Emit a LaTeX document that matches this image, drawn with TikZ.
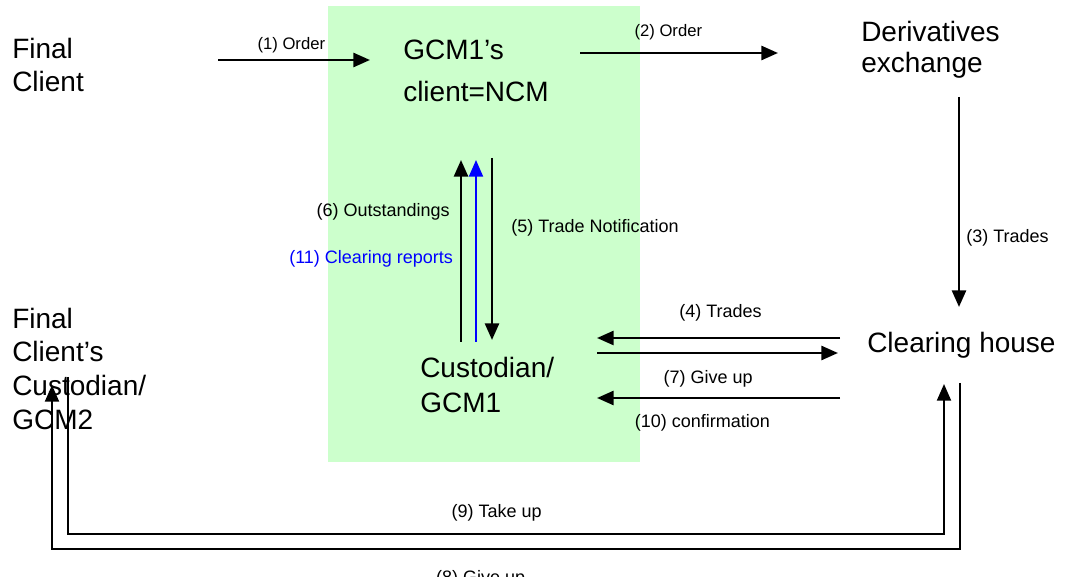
\documentclass[tikz,border=0pt]{standalone}
\usepackage{fontspec}
\setmainfont{Liberation Sans}
\usepackage{tikz}
\usetikzlibrary{arrows.meta,positioning,calc}

\definecolor{zonegreen}{RGB}{204,255,204}
\definecolor{repblue}{RGB}{0,0,255}

\tikzset{
  party/.style={align=left, inner sep=0pt, anchor=base west},
  flow/.style={line width=2pt, -{Triangle[length=12.5pt,width=10.5pt]}},
  route/.style={line width=1.5pt},
  msg/.style={inner sep=0pt, font=\fontsize{13.5}{15}\selectfont},
}

\begin{document}
\begin{tikzpicture}[x=0.75pt,y=-0.75pt]
\useasboundingbox (0,0) rectangle (1068,577);
\fill[zonegreen] (328,6) rectangle (640,462);

% parties (anchored at the baseline of their last line)
\node[party, font=\fontsize{21}{24.75}\selectfont] (fc) at (12,92) {Final\\Client};
\node[party, font=\fontsize{21}{31.5}\selectfont] (gcm) at (403,102) {GCM1’s\\client=NCM};
\node[party, font=\fontsize{21}{23.25}\selectfont] (dx) at (861,73) {Derivatives\\exchange};
\node[party, font=\fontsize{21}{26.25}\selectfont] (cust) at (420,412) {Custodian/\\GCM1};
\node[party, font=\fontsize{21}{25}\selectfont] (ch) at (867,353) {Clearing house};
\node[party, font=\fontsize{21}{25.2}\selectfont] (gcm2) at (12,429) {Final\\Client’s\\Custodian/\\GCM2};

% connector ends
\coordinate (o1a) at (218,60);   \coordinate (o1b) at (370,60);
\coordinate (o2a) at (580,53);   \coordinate (o2b) at (778,53);
\coordinate (t3a) at (959,97);   \coordinate (t3b) at (959,307);
\coordinate (t4a) at (840,338);  \coordinate (t4b) at (597,338);
\coordinate (g7a) at (597,353);  \coordinate (g7b) at (838,353);
\coordinate (c10a) at (840,398); \coordinate (c10b) at (597,398);
\coordinate (n5a) at (492,158);  \coordinate (n5b) at (492,340);
\coordinate (s6a) at (461,342);  \coordinate (s6b) at (461,160);
\coordinate (r11a) at (476,342); \coordinate (r11b) at (476,160);
\coordinate (t9a) at (68,377);   \coordinate (t9c) at (944,534); \coordinate (t9b) at (944,384);
\coordinate (g8a) at (960,383);  \coordinate (g8c) at (52,549);  \coordinate (g8b) at (52,385);

% orders
\draw[flow] (o1a) -- (o1b) node[msg, midway, above=4.6pt, xshift=-2pt, font=\fontsize{12.5}{14}\selectfont] {(1) Order};
\draw[flow] (o2a) -- (o2b) node[msg, midway, above=9pt, xshift=-8pt, font=\fontsize{12.5}{14}\selectfont] {(2) Order};
\draw[flow] (t3a) -- (t3b) node[msg, pos=.695, anchor=base west, xshift=4.5pt] {(3) Trades};

% clearing house <-> custodian
\draw[flow] (t4a) -- (t4b) node[msg, midway, above=11.5pt, xshift=1.5pt] {(4) Trades};
\draw[flow] (g7a) -- (g7b) node[msg, midway, below=12pt, xshift=-7pt] {(7) Give up};
\draw[flow] (c10a) -- (c10b) node[msg, midway, below=11pt, xshift=-12pt] {(10) confirmation};

% custodian <-> NCM
\draw[flow] (n5a) -- (n5b) node[msg, pos=.407, anchor=base west, xshift=13.5pt] {(5) Trade Notification};
\draw[flow] (s6a) -- (s6b) node[msg, pos=.687, anchor=base east, xshift=-7.5pt] {(6) Outstandings};
\draw[flow, repblue, line width=1.5pt] (r11a) -- (r11b) node[msg, pos=.434, anchor=base east, xshift=-16.5pt] {(11) Clearing reports};

% take up / give up
\draw[route, -{Triangle[length=12.5pt,width=10.5pt]}] (t9a) |- (t9c)
  node[msg, pos=.75, anchor=base, yshift=12.75pt, xshift=-7pt] {(9) Take up} -- (t9b);
\draw[route, -{Triangle[length=12.5pt,width=10.5pt]}] (g8a) |- (g8c)
  node[msg, pos=.75, anchor=base, yshift=-25.5pt, xshift=-19pt] {(8) Give up} -- (g8b);
\end{tikzpicture}
\end{document}
